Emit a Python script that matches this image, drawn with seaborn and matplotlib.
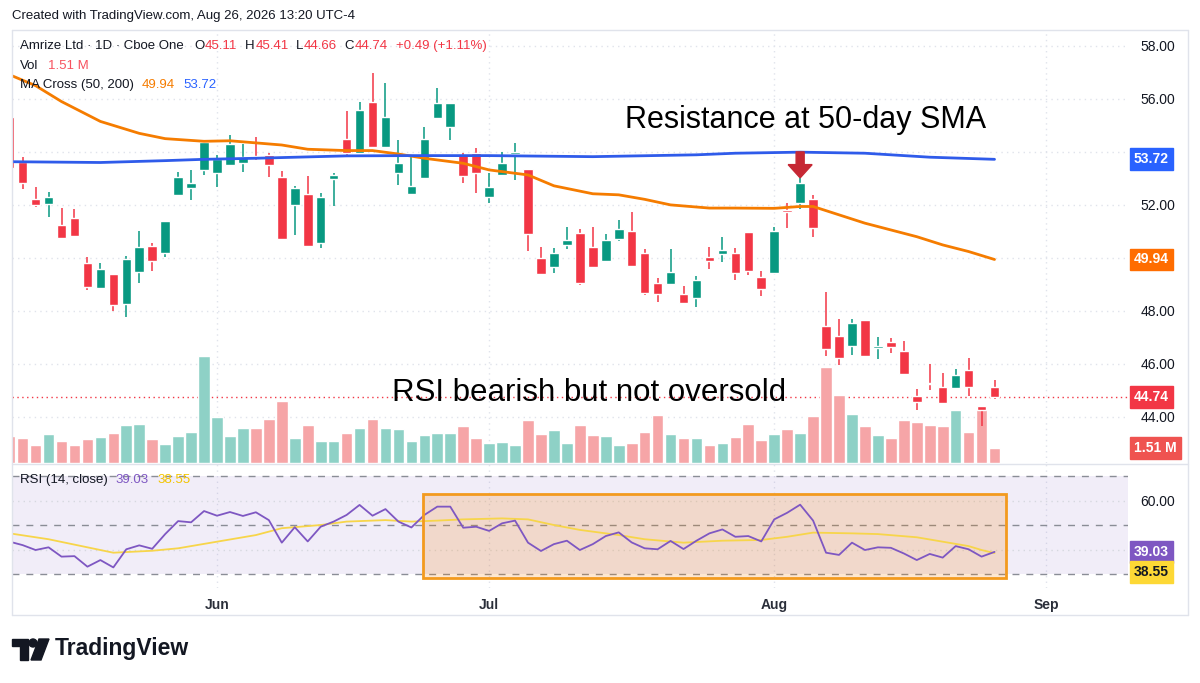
import numpy as np
import pandas as pd
import matplotlib
matplotlib.use("Agg")
import matplotlib.pyplot as plt
import matplotlib.patches as mpatches
import matplotlib.transforms as mtransforms
from matplotlib.lines import Line2D
import seaborn as sns

sns.set_style("white")
plt.rcParams['font.family'] = ['Liberation Sans', 'DejaVu Sans']

# ---- data ----
holidays = pd.to_datetime(["2026-05-25", "2026-06-19", "2026-07-03", "2026-09-07"])
dates = pd.bdate_range("2026-05-07", "2026-08-26", freq="C", holidays=holidays)

opens = [55.33, 53.6, 52.21, 52.04, 51.25, 51.5, 49.82, 48.86, 49.4, 48.26,
         49.45, 50.43, 50.2, 52.38, 52.63, 53.32, 53.22, 53.51, 53.57, 53.84,
         53.89, 53.07, 52.0, 52.4, 50.55, 52.98, 54.48, 53.95, 55.9, 54.2,
         53.2, 52.42, 53.0, 55.27, 54.93, 53.89, 53.97, 52.29, 53.13, 53.92,
         53.35, 49.99, 49.65, 50.49, 50.93, 50.4, 49.89, 50.71, 51.02, 50.18,
         49.07, 49.02, 48.63, 48.5, 50.03, 50.15, 50.18, 50.97, 49.27, 49.42,
         51.8, 52.09, 52.21, 47.43, 47.06, 46.69, 47.66, 46.6, 46.84, 46.5,
         44.79, 45.27, 45.14, 45.08, 45.77, 44.42, 45.11]
highs = [55.4, 53.8, 52.69, 52.48, 51.87, 51.84, 50.03, 49.8, 49.4, 50.08,
         51.03, 50.55, 51.41, 53.26, 53.3, 54.45, 53.89, 54.64, 54.3, 54.55,
         53.95, 53.28, 52.73, 53.09, 52.44, 53.2, 55.56, 55.9, 56.97, 56.59,
         54.45, 53.82, 54.95, 56.4, 55.86, 53.95, 54.14, 53.2, 54.01, 54.33,
         53.35, 50.43, 50.37, 51.18, 51.1, 51.18, 50.9, 51.43, 51.75, 50.33,
         49.23, 50.33, 48.95, 49.32, 50.43, 50.8, 50.37, 50.97, 49.52, 51.18,
         52.09, 53.0, 52.37, 48.73, 47.69, 47.69, 47.66, 47.0, 46.97, 46.86,
         45.04, 46.0, 45.65, 45.8, 46.21, 44.42, 45.41]
lows = [53.38, 52.6, 51.91, 51.56, 50.71, 50.78, 48.79, 48.86, 48.01, 47.77,
        49.04, 49.52, 50.05, 52.38, 52.19, 53.13, 52.69, 53.51, 53.26, 53.7,
        53.05, 50.72, 50.87, 50.45, 50.37, 51.97, 53.89, 53.95, 54.18, 54.2,
        52.75, 52.42, 53.0, 55.27, 54.45, 52.82, 52.46, 52.09, 53.13, 52.94,
        50.27, 49.36, 49.42, 50.33, 48.98, 49.64, 49.83, 50.64, 49.7, 48.6,
        48.32, 49.02, 48.26, 48.14, 49.59, 49.84, 49.17, 49.36, 48.58, 49.42,
        51.12, 51.85, 50.79, 46.28, 45.96, 46.34, 46.28, 46.19, 46.4, 45.62,
        44.26, 45.02, 44.52, 45.08, 44.77, 43.66, 44.66]
closes = [53.38, 52.84, 52.0, 52.31, 50.74, 50.83, 48.92, 49.57, 48.23, 49.95,
          50.43, 49.9, 51.41, 53.05, 52.82, 54.39, 53.72, 54.3, 53.8, 53.78,
          53.51, 50.72, 52.65, 50.45, 52.28, 53.13, 53.95, 55.58, 54.18, 55.3,
          53.57, 52.73, 54.48, 55.86, 55.86, 53.09, 53.22, 52.69, 53.57, 53.98,
          50.89, 49.38, 50.2, 50.68, 49.05, 49.67, 50.68, 51.09, 49.7, 48.69,
          48.63, 49.48, 48.29, 49.17, 49.9, 50.3, 49.42, 49.52, 48.83, 51.03,
          51.75, 52.82, 51.12, 46.57, 46.24, 47.53, 46.28, 46.68, 46.63, 45.62,
          44.58, 45.23, 44.52, 45.58, 45.12, 44.25, 44.74]
volume_m = [2.66, 2.5, 1.78, 2.83, 2.17, 1.75, 2.4, 2.6, 2.99, 3.75,
            3.88, 2.4, 1.84, 2.63, 3.09, 10.56, 4.54, 2.63, 3.42, 3.42,
            4.31, 6.12, 2.5, 3.75, 2.17, 2.17, 2.99, 3.49, 4.31, 3.49,
            3.39, 2.17, 2.76, 2.96, 2.96, 3.62, 2.5, 1.94, 2.07, 1.75,
            4.21, 2.89, 3.22, 1.97, 3.75, 2.76, 2.63, 1.75, 1.97, 3.09,
            4.74, 2.83, 2.5, 2.5, 1.75, 1.97, 2.6, 3.88, 2.27, 2.83,
            3.32, 2.99, 4.64, 9.48, 6.68, 4.87, 3.65, 2.76, 2.44, 4.21,
            4.08, 3.75, 3.62, 5.23, 3.09, 5.46, 1.51]

# moving averages read at selected bars
sma50_bar = [0, 2, 4, 7, 10, 12, 15, 17, 21, 23, 26, 28, 30, 32, 35, 37, 40, 42,
             45, 47, 49, 51, 54, 56, 59, 61, 62, 66, 70, 72, 74, 76]
sma50 = [56.91, 56.5, 55.9, 55.15, 54.7, 54.5, 54.4, 54.42, 54.26, 54.1, 54.05,
         54.05, 53.92, 53.76, 53.57, 53.32, 53.13, 52.72, 52.42, 52.38, 52.21,
         52.0, 51.88, 51.88, 51.87, 51.94, 51.94, 51.31, 50.8, 50.49, 50.24, 49.94]
sma200_bar = [0, 7, 12, 15, 19, 26, 31, 37, 45, 53, 56, 61, 66, 71, 76]
sma200 = [53.63, 53.6, 53.67, 53.72, 53.76, 53.85, 53.86, 53.86, 53.82, 53.89,
          53.95, 53.99, 53.95, 53.8, 53.72]

rsi = [43.2, 41.8, 39.8, 40.9, 37.1, 37.3, 33.0, 35.7, 32.7, 40.1,
       41.7, 40.3, 46.3, 51.6, 51.1, 55.7, 53.8, 55.3, 53.7, 55.2,
       52.0, 42.8, 49.1, 43.3, 49.3, 51.4, 54.1, 58.2, 53.8, 56.5,
       51.4, 49.0, 54.1, 57.5, 57.5, 48.9, 49.3, 47.6, 50.7, 51.8,
       42.8, 39.4, 42.2, 43.6, 39.8, 42.2, 45.5, 47.0, 42.9, 40.5,
       40.1, 43.5, 40.2, 43.6, 46.6, 48.2, 45.2, 45.5, 43.3, 52.3,
       55.0, 58.3, 51.8, 38.7, 37.8, 42.8, 39.8, 40.9, 40.7, 38.4,
       35.7, 38.2, 36.7, 41.4, 40.1, 37.1, 39.03]
rsi_ma_bar = [0, 3, 6, 8, 11, 13, 16, 19, 21, 24, 26, 29, 31, 33, 35, 38, 40, 42,
              44, 47, 49, 52, 55, 58, 60, 62, 65, 67, 70, 72, 74, 75, 76]
rsi_ma = [46.6, 44.2, 40.9, 38.7, 39.5, 40.5, 43.2, 45.9, 48.7, 50.0, 51.4, 52.0,
          51.4, 51.8, 52.3, 52.7, 52.3, 50.0, 48.0, 45.9, 44.2, 42.8, 43.6, 43.9,
          45.2, 46.9, 46.6, 46.3, 45.0, 43.2, 41.4, 39.8, 38.55]

price_ticks = [44, 46, 48, 50, 52, 54, 56, 58]
# labels hidden behind the MA tags on the price scale
price_labels = ['44.00', '46.00', '48.00', '', '52.00', '', '56.00', '58.00']

# ---- colours ----
UP, DOWN = '#089981', '#f23645'
VOL_UP, VOL_DOWN = '#8ed1c6', '#f6a5a7'
ORANGE, BLUE = '#f57c00', '#2f5bea'
PURPLE, YELLOW = '#7e57c2', '#f7d54a'
GRID = '#e0e3eb'
TXT = '#131722'

W, H = 1200, 683
def fx(x):
    return x / W
def fy(y):
    return 1 - y / H

fig = plt.figure(figsize=(12, 6.83), dpi=100)
fig.patch.set_facecolor('white')

main_rect = [fx(12), fy(463), fx(1128) - fx(12), fy(30) - fy(463)]
rsi_rect = [fx(12), fy(588), fx(1128) - fx(12), fy(464) - fy(588)]

axv = fig.add_axes(main_rect)          # volume + grid (bottom layer)
ax = fig.add_axes(main_rect)           # candles, MAs
ax.patch.set_visible(False)
ar = fig.add_axes(rsi_rect)

x = np.arange(len(dates))
xlim = (0.18, 86.3)
o, hi, lo, c = map(np.array, (opens, highs, lows, closes))
up = c >= o

# month ticks incl. the future part of the axis
all_days = pd.bdate_range("2026-05-07", "2026-09-30", freq="C", holidays=holidays)
month_pos = [i for i in range(1, len(all_days)) if all_days[i].month != all_days[i - 1].month]
month_lab = [all_days[i].strftime('%b') for i in month_pos]

for a in (ax, axv, ar):
    a.set_xlim(*xlim)
    for s in a.spines.values():
        s.set_visible(False)

ax.set_ylim(42.26, 58.6)
axv.set_ylim(0, 42.7)
ar.set_ylim(24.3, 74.9)

# grid on the bottom layer, in price units
trans = mtransforms.blended_transform_factory(axv.transAxes, ax.transData)
for p in price_ticks:
    axv.plot([0, 1], [p, p], transform=trans, color=GRID, lw=1, ls=(0, (1, 3)), zorder=0)
for m in month_pos:
    axv.axvline(m, color=GRID, lw=1, ls=(0, (1, 3)), zorder=0)
    ar.axvline(m, color=GRID, lw=1, ls=(0, (1, 3)), zorder=0)
axv.plot([0, 1], [closes[-1]] * 2, transform=trans, color=DOWN, lw=1, ls=(0, (1, 2.5)), zorder=0.5)

# volume
axv.bar(x, volume_m, width=0.9, color=[VOL_UP if u else VOL_DOWN for u in up], zorder=1)
axv.set_xticks([])
axv.set_yticks([])

# candles
col = [UP if u else DOWN for u in up]
ax.vlines(x, lo, hi, colors=col, lw=1.1, zorder=3)
body = np.maximum(np.abs(c - o), 0.05)
ax.bar(x, body, bottom=np.minimum(o, c), width=0.74, color=col, zorder=3.5)

# moving averages
sns.lineplot(x=sma50_bar, y=sma50, ax=ax, color=ORANGE, linewidth=2, zorder=4)
sns.lineplot(x=sma200_bar, y=sma200, ax=ax, color=BLUE, linewidth=2, zorder=4)

ax.yaxis.tick_right()
ax.set_yticks(price_ticks)
ax.set_yticklabels(price_labels)
ax.tick_params(axis='y', length=0, pad=9, labelsize=10, labelcolor=TXT)
ax.set_xticks([])
ax.set_xlabel('')
ax.set_ylabel('')

# red arrow over the rejected bar
ax.add_patch(mpatches.FancyArrow(61, 54.0, 0, -0.98, width=0.62, head_width=1.85,
                                 head_length=0.5, length_includes_head=True,
                                 color='#c62834', zorder=6))


def price_tag(a, val, text, fc, tc='white', dy=0):
    a.annotate(text, xy=(1, val), xycoords=('axes fraction', 'data'),
               xytext=(6, dy), textcoords='offset pixels', ha='left', va='center',
               fontsize=10, fontweight='bold', color=tc, annotation_clip=False,
               bbox=dict(boxstyle='square,pad=0.28', fc=fc, ec=fc), zorder=10)


price_tag(ax, sma200[-1], f'{sma200[-1]:.2f}', '#2962ff')
price_tag(ax, sma50[-1], f'{sma50[-1]:.2f}', '#ff6d00')
price_tag(ax, closes[-1], f'{closes[-1]:.2f}', DOWN)
price_tag(axv, volume_m[-1], f'{volume_m[-1]:.2f} M', '#ef5350')

# ---- RSI pane ----
ar.axhspan(30, 70, color=PURPLE, alpha=0.1, lw=0, zorder=0)
for lvl in (70, 50, 30):
    ar.axhline(lvl, color='#8a8d96', lw=1, ls=(0, (5, 5)), zorder=1)
for lvl in (60, 40):
    ar.axhline(lvl, color='#d6d8df', lw=1, ls=(0, (1, 3)), zorder=1)
ar.add_patch(mpatches.Rectangle((31.9, 28.4), 45.0, 34.1, fc='#f57c00', alpha=0.18,
                                ec='none', zorder=1.5))
ar.add_patch(mpatches.Rectangle((31.9, 28.4), 45.0, 34.1, fc='none', ec='#f39a1e',
                                lw=2, zorder=5))
sns.lineplot(x=rsi_ma_bar, y=rsi_ma, ax=ar, color=YELLOW, linewidth=1.3, zorder=3)
sns.lineplot(x=x, y=rsi, ax=ar, color=PURPLE, linewidth=1.3, zorder=4)

ar.yaxis.tick_right()
ar.set_yticks([40, 60])
ar.set_yticklabels(['', '60.00'])
ar.tick_params(axis='y', length=0, pad=9, labelsize=10, labelcolor=TXT)
ar.set_xticks(month_pos)
ar.set_xticklabels(month_lab, fontweight='bold')
ar.tick_params(axis='x', length=0, pad=7, labelsize=10, labelcolor='#2a2e39')
ar.set_xlabel('')
ar.set_ylabel('')
price_tag(ar, rsi[-1], f'{rsi[-1]:.2f}', PURPLE)
price_tag(ar, rsi_ma[-1], f'{rsi_ma[-1]:.2f}', '#fdd835', tc=TXT, dy=-19)

# ---- frame lines ----
def hline(y, x0=12, x1=1188, color=GRID, lw=1):
    fig.add_artist(Line2D([fx(x0), fx(x1)], [fy(y), fy(y)], color=color, lw=lw))

def vline(xp, y0=30, y1=615, color=GRID, lw=1):
    fig.add_artist(Line2D([fx(xp), fx(xp)], [fy(y0), fy(y1)], color=color, lw=lw))

hline(30)
hline(463.5)
hline(615)
vline(12)
vline(1188)

# ---- texts ----
fig.text(fx(12), fy(16), 'Created with TradingView.com, Aug 26, 2026 13:20 UTC-4',
         fontsize=9.5, color=TXT, va='center')

hy = 46
fig.text(fx(20), fy(hy), 'Amrize Ltd · 1D · Cboe One', fontsize=9.5, color=TXT, va='center')
for xp, s, colr in [(194, 'O', TXT), (205, '45.11', DOWN), (245, 'H', TXT), (256, '45.41', DOWN),
                    (296, 'L', TXT), (304, '44.66', DOWN), (344, 'C', TXT), (355, '44.74', DOWN),
                    (396, '+0.49 (+1.11%)', DOWN)]:
    fig.text(fx(xp), fy(hy), s, fontsize=9.5, color=colr, va='center')
fig.text(fx(20), fy(66), 'Vol', fontsize=9.5, color=TXT, va='center')
fig.text(fx(48), fy(66), '1.51 M', fontsize=9.5, color='#f7525f', va='center')
fig.text(fx(20), fy(85), 'MA Cross (50, 200)', fontsize=9.5, color=TXT, va='center')
fig.text(fx(142), fy(85), '49.94', fontsize=9.5, color=ORANGE, va='center')
fig.text(fx(183), fy(85), '53.72', fontsize=9.5, color='#2962ff', va='center')

fig.text(fx(20), fy(480), 'RSI (14, close)', fontsize=9.5, color=TXT, va='center')
fig.text(fx(115), fy(480), '39.03', fontsize=9.5, color=PURPLE, va='center')
fig.text(fx(157), fy(480), '38.55', fontsize=9.5, color='#f2c400', va='center')

fig.text(fx(625), fy(120), 'Resistance at 50-day SMA', fontsize=22, color='black', va='center')
fig.text(fx(392), fy(393), 'RSI bearish but not oversold', fontsize=22.5, color='black', va='center')

# TradingView logo
logo = '#131722'
fig.add_artist(mpatches.Rectangle((fx(12), fy(646)), fx(16), fy(639) - fy(646), color=logo))
fig.add_artist(mpatches.Rectangle((fx(20), fy(660)), fx(8), fy(646) - fy(660), color=logo))
fig.add_artist(mpatches.Ellipse((fx(33), fy(643)), fx(8), 8 / H, color=logo))
fig.add_artist(mpatches.Polygon([(fx(39), fy(639)), (fx(49), fy(639)), (fx(41), fy(660)),
                                 (fx(31), fy(660))], closed=True, color=logo))
fig.text(fx(55), fy(649), 'TradingView', fontsize=16.5, fontweight='bold', color=logo, va='center')

fig.savefig('out.png', dpi=100, facecolor='white')
